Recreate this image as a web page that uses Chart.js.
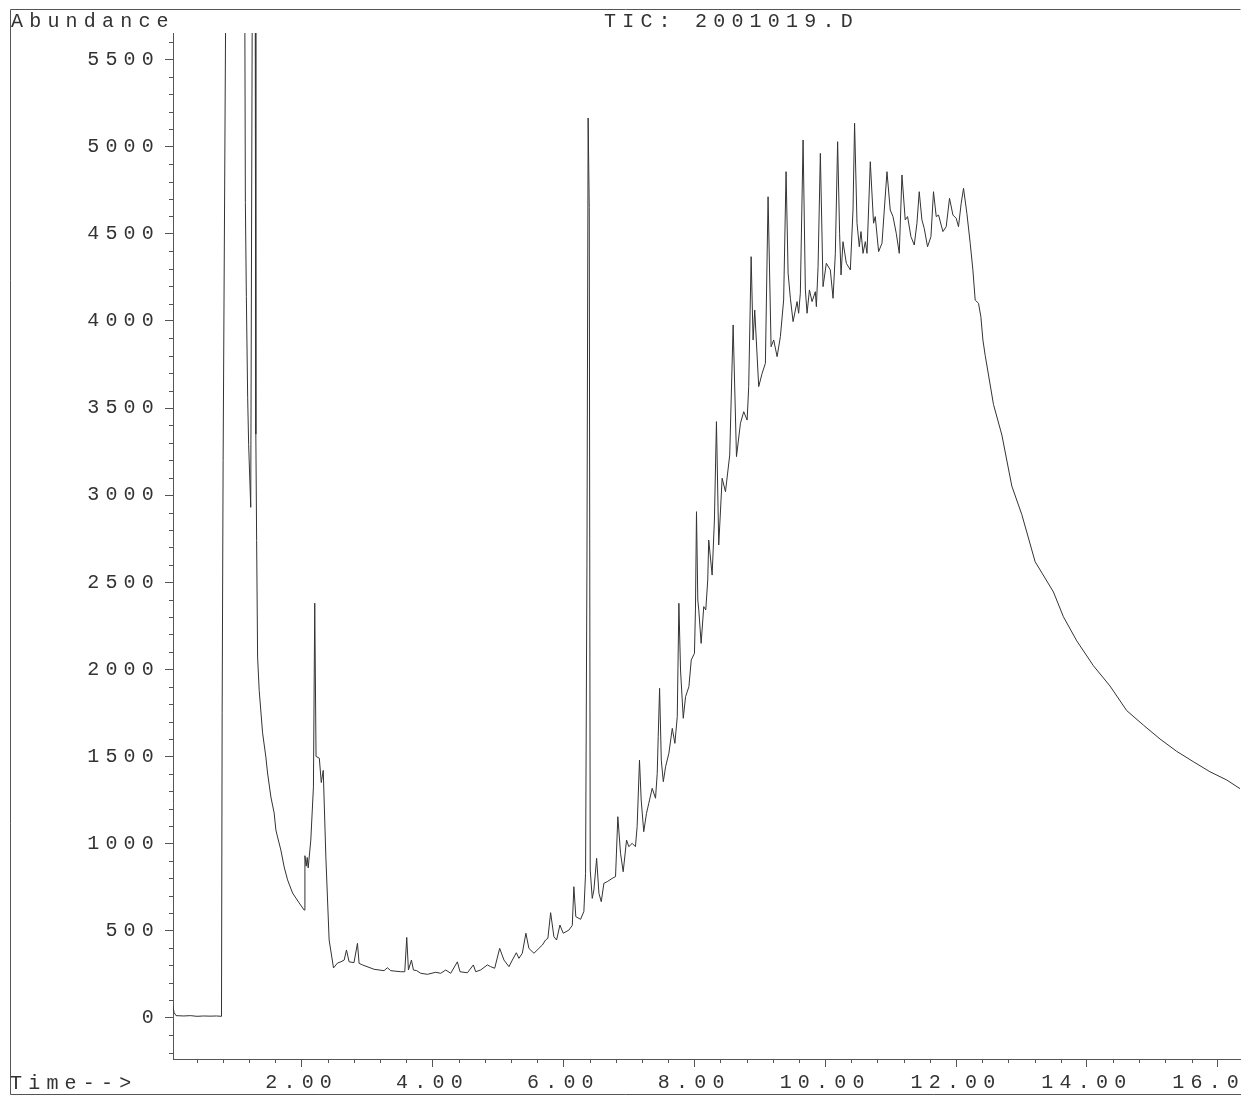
<!DOCTYPE html>
<html lang="en">
<head>
<meta charset="UTF-8" />
<title>TIC: 2001019.D</title>
<script src="https://cdn.jsdelivr.net/npm/chart.js@4.4.3/dist/chart.umd.min.js"></script>
<style>
	html, body { margin: 0; padding: 0; background: #fff; }
	#wrap { width: 1254px; height: 1096px; }
	canvas { display: block; }
</style>
</head>
<body>
<div id="wrap"><canvas id="tic" width="1241" height="1096"></canvas></div>
<script>
// [retention time (min), abundance]
const startBaseline = [
	[0.03, 70], [0.05, 30], [0.08, 12], [0.2, 10], [0.3, 12], [0.4, 8], [0.5, 10],
	[0.6, 9], [0.7, 10], [0.775, 8]
];
const solventPeaks = [
	[0.785, 1750], [0.80, 3200], [0.845, 6200], [1.0, 12000], [1.13, 6000],
	[1.14, 4680], [1.155, 4140], [1.175, 3560], [1.19, 3290], [1.222, 2930],
	[1.245, 5800], [1.27, 9000], [1.29, 6000], [1.30, 3350], [1.312, 2740],
	[1.327, 2070], [1.351, 1880], [1.403, 1635], [1.453, 1497], [1.479, 1405],
	[1.53, 1267], [1.58, 1175], [1.606, 1078], [1.632, 1037], [1.682, 963],
	[1.733, 865], [1.785, 791], [1.861, 716], [1.962, 659], [2.038, 618],
	[2.05, 930], [2.07, 870], [2.085, 920], [2.10, 860], [2.14, 1020],
	[2.18, 1325], [2.20, 2380], [2.22, 1500], [2.27, 1490], [2.30, 1350],
	[2.33, 1420], [2.37, 923], [2.42, 446], [2.487, 286]
];
const lowBaseline = [
	[2.548, 314], [2.60, 321], [2.65, 331], [2.685, 389], [2.725, 321], [2.80, 316],
	[2.853, 427], [2.878, 312], [2.93, 303], [3.107, 278], [3.26, 270], [3.31, 287],
	[3.362, 270], [3.515, 264], [3.576, 264], [3.606, 461], [3.632, 274], [3.678, 331],
	[3.708, 274], [3.759, 270], [3.82, 255], [3.922, 249], [4.049, 261], [4.125, 255],
	[4.202, 274], [4.278, 255], [4.38, 321], [4.42, 264], [4.533, 258], [4.624, 303],
	[4.66, 264], [4.736, 274], [4.838, 303], [4.889, 293], [4.95, 284], [5.026, 398],
	[5.092, 331], [5.168, 293], [5.22, 331], [5.281, 373], [5.321, 341], [5.372, 370],
	[5.427, 485], [5.473, 398], [5.55, 370], [5.626, 398], [5.678, 417], [5.728, 446],
	[5.763, 456], [5.805, 603], [5.855, 465], [5.896, 446], [5.947, 532], [5.998, 485],
	[6.084, 503], [6.136, 530], [6.16, 752], [6.19, 580], [6.263, 565], [6.313, 610],
	[6.339, 829]
];
const humpRise = [
	[6.36, 2600], [6.378, 5165], [6.395, 4650], [6.41, 848], [6.441, 685], [6.466, 733],
	[6.508, 915], [6.543, 714], [6.579, 666], [6.619, 772], [6.67, 781], [6.746, 800],
	[6.797, 810], [6.832, 1154], [6.873, 944], [6.914, 838], [6.965, 1020], [7.0, 982],
	[7.051, 1001], [7.101, 982], [7.127, 1097], [7.163, 1479], [7.189, 1250], [7.228, 1068],
	[7.27, 1173], [7.305, 1231], [7.357, 1317], [7.408, 1260], [7.434, 1403], [7.449, 1613],
	[7.47, 1891], [7.496, 1479], [7.527, 1355], [7.562, 1441], [7.612, 1518], [7.664, 1661],
	[7.704, 1575], [7.74, 1728], [7.765, 2379], [7.79, 1996], [7.832, 1719], [7.867, 1843],
	[7.918, 1900], [7.954, 2054], [8.003, 2092], [8.018, 2341], [8.034, 2905], [8.054, 2398],
	[8.069, 2341], [8.105, 2149], [8.145, 2360], [8.176, 2341], [8.206, 2513], [8.221, 2742],
	[8.273, 2541], [8.308, 2857], [8.339, 3422], [8.374, 2714], [8.426, 3097], [8.477, 3020],
	[8.542, 3230], [8.594, 3977], [8.645, 3221], [8.706, 3413], [8.756, 3479], [8.808, 3431],
	[8.832, 3623], [8.869, 4369], [8.899, 3891], [8.924, 4063], [8.985, 3623], [9.037, 3699],
	[9.087, 3757], [9.128, 4713], [9.174, 3852], [9.214, 3891], [9.266, 3795], [9.316, 3910],
	[9.366, 4120], [9.403, 4857], [9.434, 4274], [9.469, 4130], [9.51, 3996], [9.571, 4111],
	[9.595, 4044], [9.621, 4159], [9.663, 5039], [9.698, 4178], [9.724, 4044], [9.76, 4178],
	[9.8, 4111], [9.85, 4168], [9.866, 4082], [9.892, 4311], [9.927, 4962], [9.968, 4197]
];
const plateau = [
	[10.018, 4331], [10.079, 4293], [10.121, 4130], [10.156, 4388], [10.191, 5029], [10.221, 4503],
	[10.243, 4264], [10.273, 4455], [10.324, 4331], [10.385, 4293], [10.426, 4637], [10.45, 5135],
	[10.487, 4561], [10.522, 4426], [10.548, 4513], [10.579, 4388], [10.614, 4455], [10.64, 4388],
	[10.69, 4914], [10.74, 4561], [10.766, 4599], [10.817, 4398], [10.869, 4446], [10.904, 4637],
	[10.945, 4857], [10.995, 4637], [11.037, 4599], [11.087, 4503], [11.133, 4388], [11.174, 4838],
	[11.224, 4580], [11.26, 4599], [11.311, 4484], [11.362, 4436], [11.403, 4561], [11.438, 4742],
	[11.479, 4580], [11.514, 4532], [11.565, 4426], [11.617, 4484], [11.656, 4742], [11.698, 4599],
	[11.733, 4608], [11.8, 4513], [11.85, 4541], [11.901, 4704], [11.953, 4608], [12.003, 4589],
	[12.038, 4541], [12.079, 4675], [12.115, 4761], [12.166, 4618], [12.217, 4446], [12.258, 4293],
	[12.293, 4120], [12.344, 4101], [12.38, 4024], [12.411, 3891]
];
const tail = [
	[12.446, 3802], [12.573, 3520], [12.701, 3345], [12.853, 3052], [13.006, 2888], [13.209, 2618],
	[13.489, 2444], [13.641, 2302], [13.846, 2163], [14.099, 2021], [14.354, 1904], [14.609, 1763],
	[14.863, 1680], [15.118, 1600], [15.373, 1529], [15.626, 1470], [15.881, 1412], [16.136, 1365],
	[16.34, 1315]
];

const timeRange = [0.034, 16.34];
const abundanceRange = [-237, 5653];
const timeLabels = [2, 4, 6, 8, 10, 12, 14, 16];
const abundanceLabels = [0, 500, 1000, 1500, 2000, 2500, 3000, 3500, 4000, 4500, 5000, 5500];
const timeMinorStep = 0.4;
const abundanceMinorStep = 100;

const FONT = { family: "'Liberation Mono', 'Courier New', monospace", size: 20 };
const FONT_CSS = "20px 'Liberation Mono', 'Courier New', monospace";
const SPACING = "6.2px";
const TEXT = "#333";
const AXIS = "#555";

const trace = [].concat(startBaseline, solventPeaks, lowBaseline, humpRise, plateau, tail)
	.map((p) => ({ x: p[0], y: p[1] }));

const isMajorX = (v) => timeLabels.some((m) => Math.abs(m - v) < 1e-6);
const isMajorY = (v) => abundanceLabels.some((m) => Math.abs(m - v) < 1e-6);

// evenly spaced tick positions inside a range (labels only on the listed majors)
function tickValues(range, step) {
	const out = [];
	for (let i = Math.ceil(range[0] / step); i * step <= range[1]; i++) {
		out.push({ value: Math.round(i * step * 1000) / 1000 });
	}
	return out;
}

// frame, minor ticks, and the page texts
const decor = {
	id: "decor",
	beforeUpdate(chart) { chart.ctx.letterSpacing = SPACING; },
	beforeDraw(chart) { chart.ctx.letterSpacing = SPACING; },
	afterDraw(chart) {
		const ctx = chart.ctx;
		const area = chart.chartArea;
		ctx.save();
		ctx.strokeStyle = AXIS;
		ctx.lineWidth = 1;
		ctx.beginPath();
		ctx.moveTo(1240.5, 9.5);
		ctx.lineTo(10.5, 9.5);
		ctx.lineTo(10.5, 1094.5);
		ctx.lineTo(1241, 1094.5);
		ctx.stroke();

		ctx.beginPath();
		const ys = chart.scales.y;
		ys.ticks.forEach((t) => {
			if (isMajorY(t.value)) return;
			const p = Math.round(ys.getPixelForValue(t.value)) + 0.5;
			ctx.moveTo(area.left - 4, p);
			ctx.lineTo(area.left, p);
		});
		const xs = chart.scales.x;
		xs.ticks.forEach((t) => {
			if (isMajorX(t.value)) return;
			const p = Math.round(xs.getPixelForValue(t.value)) + 0.5;
			ctx.moveTo(p, area.bottom);
			ctx.lineTo(p, area.bottom + 4);
		});
		ctx.stroke();

		ctx.fillStyle = TEXT;
		ctx.font = FONT_CSS;
		ctx.letterSpacing = SPACING;
		ctx.textBaseline = "alphabetic";
		ctx.textAlign = "left";
		ctx.fillText("Abundance", 11, 27);
		ctx.fillText("TIC: 2001019.D", 604, 27);
		ctx.fillText("Time-->", 10, 1089);
		ctx.restore();
	},
};

const ctx = document.getElementById("tic").getContext("2d");
const ticChart = new Chart(ctx, {
	type: "line",
	data: {
		datasets: [
			{
				data: trace,
				borderColor: "#333",
				borderWidth: 1,
				pointRadius: 0,
				tension: 0,
				fill: false,
			},
		],
	},
	options: {
		responsive: false,
		animation: false,
		events: [],
		layout: { padding: { left: 0, right: 1, top: 33, bottom: 0 } },
		plugins: {
			legend: { display: false },
			tooltip: { enabled: false },
		},
		scales: {
			x: {
				type: "linear",
				min: timeRange[0],
				max: timeRange[1],
				border: { color: AXIS, width: 1 },
				grid: {
					drawOnChartArea: false,
					tickLength: 8,
					tickColor: (c) => (c.tick && isMajorX(c.tick.value) ? AXIS : "rgba(0,0,0,0)"),
				},
				afterBuildTicks(scale) {
					scale.ticks = tickValues(timeRange, timeMinorStep);
				},
				ticks: {
					autoSkip: false,
					maxRotation: 0,
					minRotation: 0,
					padding: 4,
					font: FONT,
					color: TEXT,
					callback: (v) => (isMajorX(v) ? v.toFixed(2) : ""),
				},
				afterFit(scale) {
					scale.height = 37;
					scale.paddingLeft = 0;
					scale.paddingRight = 0;
				},
			},
			y: {
				type: "linear",
				min: abundanceRange[0],
				max: abundanceRange[1],
				border: { color: AXIS, width: 1 },
				grid: {
					drawOnChartArea: false,
					tickLength: 8,
					tickColor: (c) => (c.tick && isMajorY(c.tick.value) ? AXIS : "rgba(0,0,0,0)"),
				},
				afterBuildTicks(scale) {
					scale.ticks = tickValues(abundanceRange, abundanceMinorStep);
				},
				ticks: {
					autoSkip: false,
					padding: 5,
					font: FONT,
					color: TEXT,
					callback: (v) => (isMajorY(v) ? String(Math.round(v)) : ""),
				},
				afterFit(scale) {
					scale.width = 173;
					scale.paddingTop = 0;
					scale.paddingBottom = 0;
				},
			},
		},
	},
	plugins: [decor],
});
</script>
</body>
</html>
